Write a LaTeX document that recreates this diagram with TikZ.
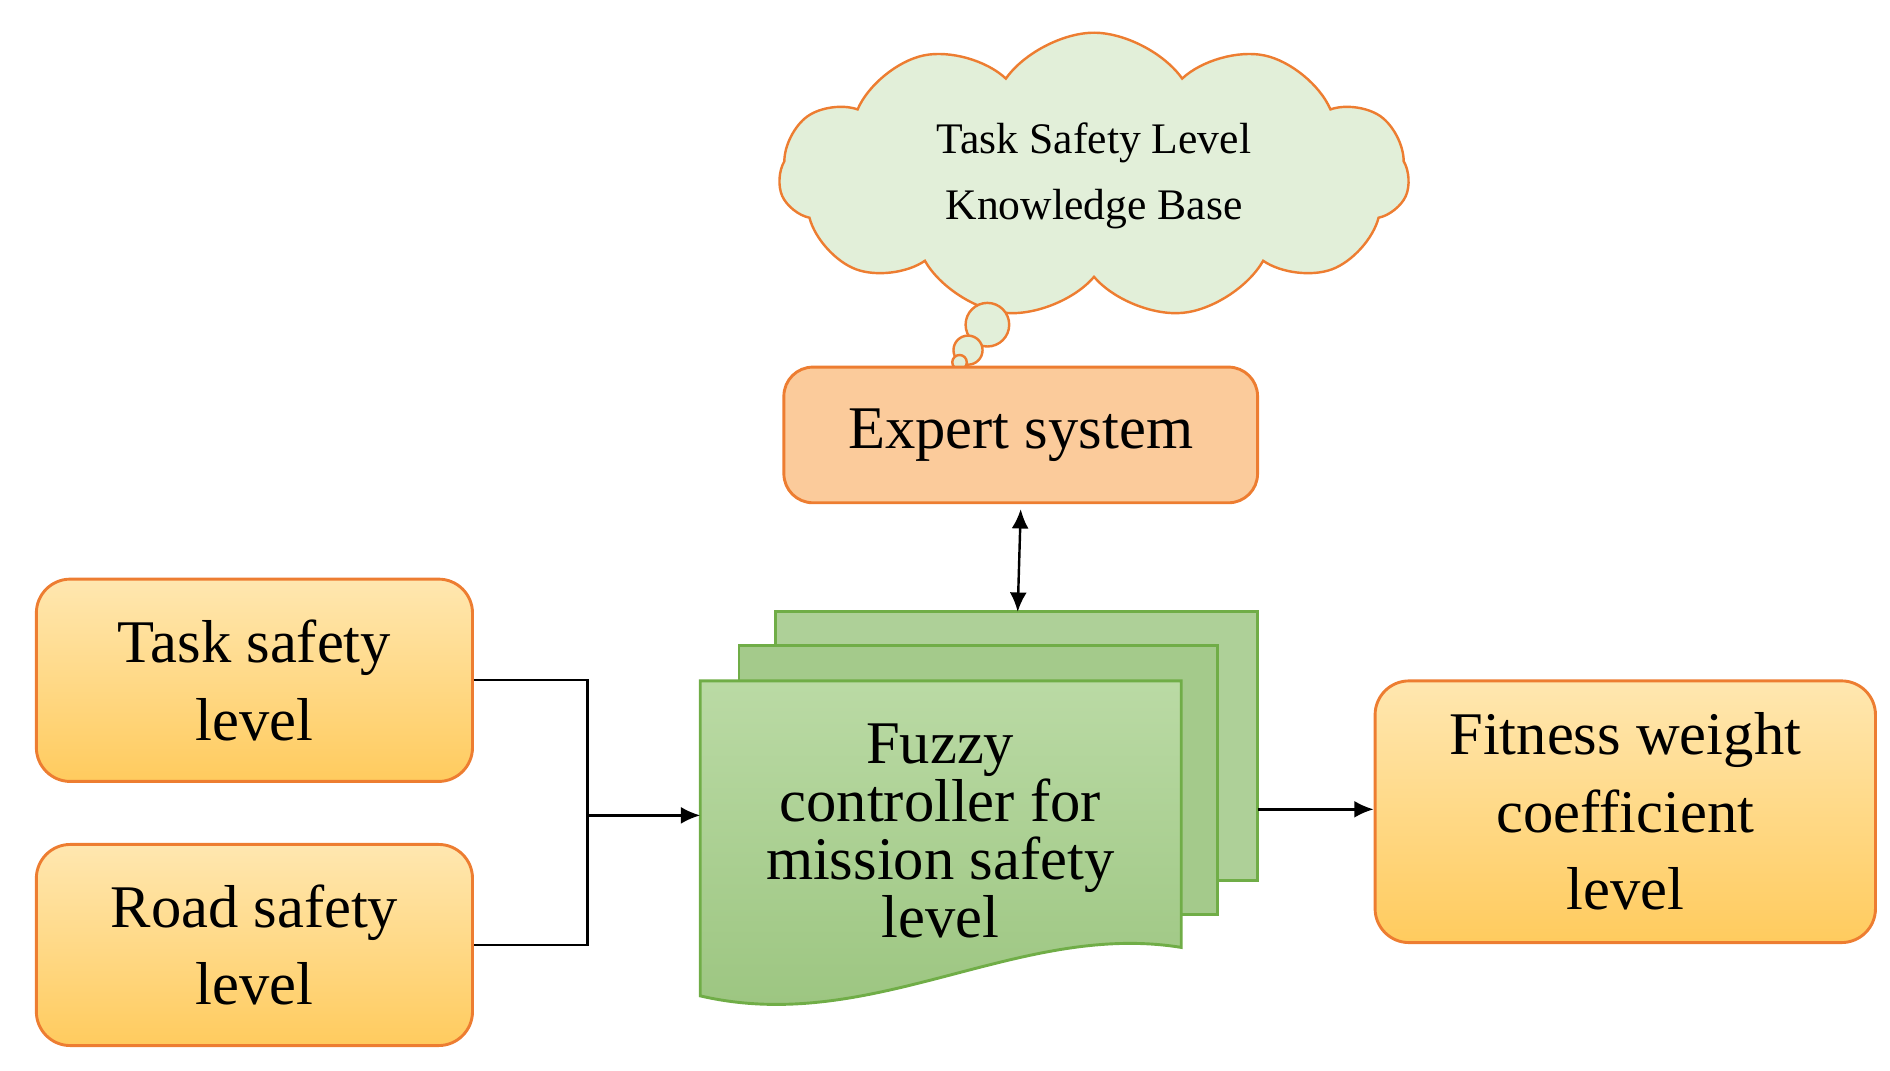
\documentclass[tikz,border=0pt]{standalone}
\usepackage{fontspec}
\setmainfont{Liberation Serif}
\usetikzlibrary{shapes.symbols,arrows.meta}
\definecolor{orng}{HTML}{ED7D31}
\definecolor{cloudfill}{HTML}{E2EFD9}
\definecolor{expfill}{HTML}{FBCB9B}
\definecolor{ytop}{HTML}{FFE7B0}
\definecolor{ybot}{HTML}{FFCB5E}
\definecolor{gfill}{HTML}{A9D18E}
\definecolor{gdark}{HTML}{9AC47E}
\definecolor{gline}{HTML}{70AD47}
\begin{document}
\begin{tikzpicture}[x=0.5pt,y=-0.5pt,
  ybox/.style={draw=orng,line width=1.2pt,rounded corners=14pt,top color=ytop,bottom color=ybot,align=center,font=\fontsize{25}{32}\selectfont},
  doc/.style={draw=gline,line width=1.2pt,fill=gfill},
  conn/.style={line width=1pt,-{Latex[length=8pt,width=7pt]}}]
\useasboundingbox (0,0) rectangle (1560,884);
% cloud
\node[cloud,cloud puffs=11,cloud puff arc=110,aspect=2.2,draw=orng,line width=1pt,fill=cloudfill,minimum width=260pt,minimum height=118pt,align=center,font=\fontsize{18}{27}\selectfont] (kb) at (903,145) {Task Safety Level\\Knowledge Base};
\node[circle,draw=orng,line width=1pt,fill=cloudfill,minimum size=18pt,inner sep=0] (b1) at (815,268) {};
\node[circle,draw=orng,line width=1pt,fill=cloudfill,minimum size=12pt,inner sep=0] (b2) at (799,289) {};
\node[circle,draw=orng,line width=1pt,fill=cloudfill,minimum size=6pt,inner sep=0] (b3) at (792,299) {};
% expert
\node[draw=orng,line width=1.2pt,rounded corners=12pt,fill=expfill,minimum width=195.5pt,minimum height=56pt,font=\fontsize{25}{30}\selectfont] (exp) at (842.5,359) {Expert system};
% documents
\draw[doc,fill=gdark!80] (640,505) -- (1038,505) -- (1038,727) -- (1000,727) -- (640,727) -- cycle;
\draw[doc,fill=gdark!90] (610,533) -- (1005,533) -- (1005,755) -- (975,755) -- (610,755) -- cycle;
\draw[doc,top color=gfill!80!white,bottom color=gdark] (578,562) -- (975,562) -- (975,782) .. controls (840,760) and (720,855) .. (578,822) -- cycle;
\node[align=center,font=\fontsize{25}{24}\selectfont] (fz) at (776,686) {Fuzzy\\controller for\\mission safety\\level};
\coordinate (fzl) at (578,673);
\coordinate (fzt) at (840,505);
\coordinate (fzr) at (1038,668);
% boxes
\node[ybox,minimum width=180pt,minimum height=83.5pt] (task) at (210,561.5) {Task safety\\level};
\node[ybox,minimum width=180pt,minimum height=83pt] (road) at (210,780) {Road safety\\level};
\node[ybox,minimum width=206.5pt,minimum height=108pt] (fit) at (1341.5,670) {Fitness weight\\coefficient\\level};
% connectors
\coordinate (j) at (485,673);
\draw[line width=1pt] (task.east) -| (j) |- (road.east);
\draw[conn] (j) -- (fzl);
\draw[line width=1pt,{Latex[length=8pt,width=7pt]}-{Latex[length=8pt,width=7pt]}] (exp.south) ++(0,4) -- (fzt);
\draw[conn] (fzr) -- (fzr -| fit.west);
\end{tikzpicture}
\end{document}
